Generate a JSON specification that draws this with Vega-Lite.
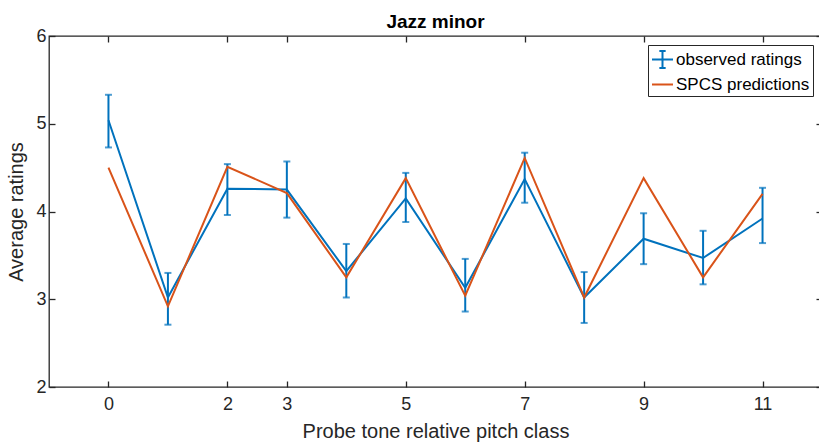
{
  "$schema": "https://vega.github.io/schema/vega-lite/v6.json",
  "width": 773,
  "height": 351,
  "autosize": "none",
  "padding": {"left": 49, "top": 36, "right": 0, "bottom": 59},
  "background": "white",
  "title": {"text": "Jazz minor", "fontSize": 19, "font": "Liberation Sans", "fontWeight": "bold", "color": "#000000", "offset": -5, "anchor": "middle"},
  "config": {
    "font": "Liberation Sans",
    "view": {"stroke": "#262626", "strokeWidth": 1.3},
    "axis": {
      "domainColor": "#262626",
      "domainWidth": 1.3,
      "tickColor": "#262626",
      "tickWidth": 1.3,
      "tickSize": -6,
      "labelColor": "#262626",
      "labelFont": "Liberation Sans",
      "labelFontSize": 18,
      "titleFont": "Liberation Sans",
      "titleFontSize": 20,
      "titleFontWeight": "normal",
      "titleColor": "#262626",
      "grid": false
    },
    "legend": {
      "orient": "top-right",
      "offset": 9,
      "strokeColor": "#262626",
      "fillColor": "white",
      "padding": 3,
      "labelFont": "Liberation Sans",
      "labelFontSize": 17,
      "labelColor": "#000000",
      "labelOffset": 2,
      "rowPadding": 1
    }
  },
  "data": {
    "values": [
      {"pc": 0, "series": "observed ratings", "rating": 5.04, "lo": 4.73, "hi": 5.33},
      {"pc": 1, "series": "observed ratings", "rating": 3.02, "lo": 2.71, "hi": 3.30},
      {"pc": 2, "series": "observed ratings", "rating": 4.26, "lo": 3.96, "hi": 4.54},
      {"pc": 3, "series": "observed ratings", "rating": 4.25, "lo": 3.93, "hi": 4.57},
      {"pc": 4, "series": "observed ratings", "rating": 3.32, "lo": 3.02, "hi": 3.63},
      {"pc": 5, "series": "observed ratings", "rating": 4.15, "lo": 3.88, "hi": 4.44},
      {"pc": 6, "series": "observed ratings", "rating": 3.13, "lo": 2.86, "hi": 3.46},
      {"pc": 7, "series": "observed ratings", "rating": 4.37, "lo": 4.10, "hi": 4.67},
      {"pc": 8, "series": "observed ratings", "rating": 3.02, "lo": 2.73, "hi": 3.31},
      {"pc": 9, "series": "observed ratings", "rating": 3.69, "lo": 3.40, "hi": 3.98},
      {"pc": 10, "series": "observed ratings", "rating": 3.47, "lo": 3.17, "hi": 3.78},
      {"pc": 11, "series": "observed ratings", "rating": 3.92, "lo": 3.64, "hi": 4.27},
      {"pc": 0, "series": "SPCS predictions", "rating": 4.50},
      {"pc": 1, "series": "SPCS predictions", "rating": 2.92},
      {"pc": 2, "series": "SPCS predictions", "rating": 4.51},
      {"pc": 3, "series": "SPCS predictions", "rating": 4.21},
      {"pc": 4, "series": "SPCS predictions", "rating": 3.25},
      {"pc": 5, "series": "SPCS predictions", "rating": 4.38},
      {"pc": 6, "series": "SPCS predictions", "rating": 3.04},
      {"pc": 7, "series": "SPCS predictions", "rating": 4.61},
      {"pc": 8, "series": "SPCS predictions", "rating": 3.02},
      {"pc": 9, "series": "SPCS predictions", "rating": 4.38},
      {"pc": 10, "series": "SPCS predictions", "rating": 3.25},
      {"pc": 11, "series": "SPCS predictions", "rating": 4.20}
    ]
  },
  "resolve": {"axis": {"x": "independent", "y": "independent"}},
  "layer": [
    {
      "transform": [{"filter": "datum.series === 'observed ratings'"}],
      "mark": {"type": "rule", "color": "#0072BD", "strokeWidth": 2},
      "encoding": {
        "x": {"field": "pc", "type": "quantitative", "scale": {"domain": [-1, 12], "nice": false, "zero": false},
              "axis": {"orient": "bottom", "values": [0, 2, 3, 5, 7, 9, 11], "title": "Probe tone relative pitch class", "labelPadding": 14, "titlePadding": 8, "domain": false}},
        "y": {"field": "lo", "type": "quantitative", "scale": {"domain": [2, 6], "nice": false, "zero": false},
              "axis": {"orient": "left", "values": [2, 3, 4, 5, 6], "title": "Average ratings", "labelPadding": 9, "titlePadding": 9, "domain": false}},
        "y2": {"field": "hi"}
      }
    },
    {
      "transform": [{"filter": "datum.series === 'observed ratings'"}],
      "mark": {"type": "tick", "orient": "horizontal", "color": "#0072BD", "size": 7, "thickness": 2},
      "encoding": {
        "x": {"field": "pc", "type": "quantitative", "axis": null},
        "y": {"field": "lo", "type": "quantitative", "axis": null}
      }
    },
    {
      "transform": [{"filter": "datum.series === 'observed ratings'"}],
      "mark": {"type": "tick", "orient": "horizontal", "color": "#0072BD", "size": 7, "thickness": 2},
      "encoding": {
        "x": {"field": "pc", "type": "quantitative", "axis": null},
        "y": {"field": "hi", "type": "quantitative", "axis": null}
      }
    },
    {
      "transform": [{"filter": "datum.series === 'observed ratings'"}],
      "mark": {"type": "line", "color": "#0072BD", "strokeWidth": 2},
      "encoding": {
        "x": {"field": "pc", "type": "quantitative",
              "axis": {"orient": "top", "values": [0, 2, 3, 5, 7, 9, 11], "labels": false, "title": null, "domain": false}},
        "y": {"field": "rating", "type": "quantitative",
              "axis": {"orient": "right", "values": [2, 3, 4, 5, 6], "labels": false, "title": null, "domain": false}}
      }
    },
    {
      "transform": [{"filter": "datum.series === 'SPCS predictions'"}],
      "mark": {"type": "line", "color": "#D95319", "strokeWidth": 2},
      "encoding": {
        "x": {"field": "pc", "type": "quantitative", "axis": null},
        "y": {"field": "rating", "type": "quantitative", "axis": null}
      }
    },
    {
      "mark": {"type": "point", "filled": false, "opacity": 0, "strokeWidth": 2},
      "encoding": {
        "x": {"field": "pc", "type": "quantitative", "axis": null},
        "y": {"field": "rating", "type": "quantitative", "axis": null},
        "color": {"field": "series", "type": "nominal",
                  "scale": {"domain": ["observed ratings", "SPCS predictions"], "range": ["#0072BD", "#D95319"]},
                  "legend": {"title": null, "symbolSize": 441, "symbolStrokeWidth": 2, "symbolOpacity": 1, "symbolFillColor": "transparent"}},
        "shape": {"field": "series", "type": "nominal",
                  "scale": {"domain": ["observed ratings", "SPCS predictions"], "range": ["M-1,0H1M0,-0.8V0.8M-0.3,-0.8H0.3M-0.3,0.8H0.3", "M-1,0H1"]},
                  "legend": {"title": null}}
      }
    }
  ]
}
